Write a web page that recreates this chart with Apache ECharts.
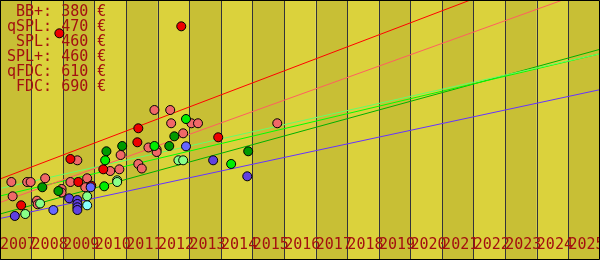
<!DOCTYPE html>
<html><head><meta charset="utf-8">
<script src="https://cdn.jsdelivr.net/npm/echarts@6/dist/echarts.min.js"></script>
<style>html,body{margin:0;padding:0;background:#fff}#c{width:600px;height:260px}</style>
</head><body><div id="c"></div>
<script>
// ---- data ----
const yearTicks = [2007,2008,2009,2010,2011,2012,2013,2014,2015,2016,2017,2018,2019,2020,2021,2022,2023,2024,2025];
const legendNames = [' BB+','qSPL',' SPL','SPL+','qFDC',' FDC'];
const legendPrices = [380, 470, 460, 460, 610, 690];

// trend lines: [year, price] at start and end of the axis
const trendFDC   = [[2007, 180.7], [2026, 690]];
const trendQFDC  = [[2007, 128.3], [2026, 610]];
const trendQSPL  = [[2007, 102.6], [2026, 470]];
const trendSPL   = [[2007, 159.5], [2026, 460]];
const trendSPLp  = [[2007, 142.8], [2026, 460]];
const trendBB    = [[2007, 92.6],  [2026, 380]];

// observed prices: [year, price]
const ptsRed = [[2008.88,505.7],[2012.74,521.3],[2009.23,225.3],[2009.48,174.0],[2009.89,165.7],[2007.67,122.0],[2010.27,202.3],[2011.35,262.6],[2011.38,293.8],[2013.91,273.7]];
const ptsSalmon = [[2011.89,334.6],[2012.39,334.6],[2012.42,305.0],[2013.06,305.0],[2013.27,305.0],[2012.80,282.6],[2011.70,251.0],[2011.96,246.5],[2011.96,240.9],[2010.82,234.2],[2011.38,214.2],[2011.49,204.1],[2010.49,198.5],[2010.78,202.3],[2009.45,222.4],[2007.36,174.0],[2007.86,174.0],[2007.97,174.0],[2008.43,182.3],[2009.23,174.0],[2009.76,182.3],[2008.95,158.4],[2008.95,150.6],[2009.70,162.2],[2007.40,142.1],[2008.17,132.3],[2008.19,124.3],[2015.78,305.0]];
const ptsDarkGreen = [[2008.34,162.2],[2008.85,153.9],[2010.37,242.5],[2010.87,254.3],[2012.36,254.3],[2012.52,275.9],[2014.86,242.5]];
const ptsGreen = [[2012.89,314.5],[2011.89,254.3],[2010.33,222.4],[2010.30,164.4],[2014.32,214.2]];
const ptsLightGreen = [[2007.80,102.6],[2009.76,142.1],[2010.71,177.8],[2010.71,174.0],[2012.65,222.4],[2012.80,222.4],[2008.27,126.0]];
const ptsCyan = [[2009.76,122.0]];
const ptsBlue = [[2008.69,111.5],[2009.87,162.2],[2012.89,253.6]];
const ptsPurple = [[2007.47,98.2],[2009.19,137.6],[2009.45,133.8],[2009.45,124.9],[2009.45,117.6],[2009.45,111.5],[2013.75,222.4],[2014.83,186.7]];

// ---- chart ----
const TEXT_COLOR = '#a31010';
const FONT = '"DejaVu Sans Mono", monospace';
const chart = echarts.init(document.getElementById('c'), null, {renderer: 'canvas'});

function lineSeries(data, color) {
  return {type: 'line', data: data, symbol: 'none', silent: true, clip: true, z: 2,
    lineStyle: {color: color, width: 1}, animation: false};
}
function scatterSeries(data, color) {
  return {type: 'scatter', data: data, symbol: 'circle', symbolSize: 9, z: 3,
    itemStyle: {color: color, borderColor: '#000', borderWidth: 1, opacity: 1}, animation: false};
}

const legendTexts = legendNames.map((n, i) => ({
  type: 'text', x: 7, y: 12 + i * 15, z: 1, silent: true,
  style: {text: n + ': ' + legendPrices[i] + ' €', fill: TEXT_COLOR, font: '15px ' + FONT,
          verticalAlign: 'middle', align: 'left'}
}));

// label axis: one category per year boundary (last one is the right edge, no text)
const labelCats = yearTicks.map(String).concat(['']);

chart.setOption({
  animation: false,
  grid: {left: 0, right: 0, top: 0, bottom: 0, containLabel: false, outerBoundsMode: 'none'},
  xAxis: [
    {type: 'value', min: 2007, max: 2026, interval: 1,
     axisLine: {show: false}, axisTick: {show: false}, axisLabel: {show: false},
     splitLine: {show: true, lineStyle: {color: '#33333a', width: 1}},
     splitArea: {show: true, areaStyle: {color: ['#c8bf35', '#dbd23c']}}},
    {type: 'category', data: labelCats, boundaryGap: false, position: 'bottom',
     axisLine: {show: false}, axisTick: {show: false}, splitLine: {show: false}, splitArea: {show: false},
     axisLabel: {show: true, inside: true, interval: 0, margin: 15, verticalAlign: 'middle', align: 'left',
       hideOverlap: false, color: TEXT_COLOR, fontFamily: FONT, fontSize: 15}}
  ],
  yAxis: {type: 'value', min: 0, max: 580, show: false, splitLine: {show: false}},
  graphic: legendTexts.concat([{
    type: 'rect', z: 100, silent: true,
    shape: {x: 0.5, y: 0.5, width: 599, height: 259},
    style: {fill: 'none', stroke: '#000', lineWidth: 1}
  }]),
  series: [
    lineSeries(trendBB, '#6633ff'),
    lineSeries(trendQSPL, '#00b000'),
    lineSeries(trendSPLp, '#00ff00'),
    lineSeries(trendSPL, '#66ff66'),
    lineSeries(trendQFDC, '#ff5f5f'),
    lineSeries(trendFDC, '#ff0000'),
    scatterSeries(ptsSalmon, '#f06868'),
    scatterSeries(ptsRed, '#ee0000'),
    scatterSeries(ptsDarkGreen, '#009900'),
    scatterSeries(ptsGreen, '#00ee00'),
    scatterSeries(ptsLightGreen, '#88ff88'),
    scatterSeries(ptsCyan, '#88ffff'),
    scatterSeries(ptsBlue, '#6666ff'),
    scatterSeries(ptsPurple, '#6040e0')
  ]
});
</script></body></html>
